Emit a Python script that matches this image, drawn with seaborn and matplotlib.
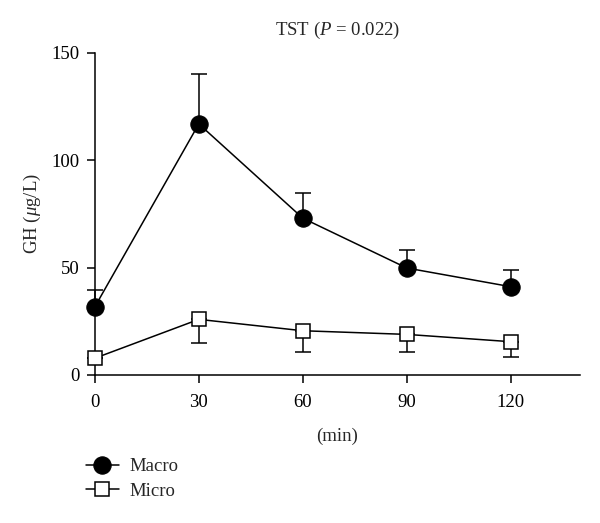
import numpy as np
import pandas as pd
import matplotlib
matplotlib.use("Agg")
import matplotlib.pyplot as plt
import seaborn as sns

# data
minutes = [0, 30, 60, 90, 120]
macro_gh = [31.7, 116.9, 73.0, 49.8, 41.1]
macro_err = [8.0, 23.3, 11.6, 8.2, 7.8]     # drawn upward only
micro_gh = [7.8, 25.9, 20.6, 18.9, 15.5]
micro_err = [0.0, 11.1, 9.7, 8.2, 7.0]      # drawn downward only

df = pd.DataFrame({
    'min': minutes * 2,
    'GH': macro_gh + micro_gh,
    'group': ['Macro'] * 5 + ['Micro'] * 5,
})

sns.set_style("ticks")
plt.rcParams['font.family'] = ['Liberation Serif', 'DejaVu Serif']
plt.rcParams['mathtext.fontset'] = 'custom'
plt.rcParams['mathtext.rm'] = 'Liberation Serif'
plt.rcParams['mathtext.it'] = 'Liberation Serif:italic'

fs = 13.5
fig = plt.figure(figsize=(6, 5.23), dpi=100)
ax = fig.add_axes([0.158, 0.283, 0.809, 0.616])

# error bars first so markers sit on top
for gh, lo, hi in [(macro_gh, np.zeros(5), macro_err), (micro_gh, micro_err, np.zeros(5))]:
    eb = ax.errorbar(minutes, gh, yerr=[lo, hi], fmt='none', ecolor='black',
                     elinewidth=1.1, capsize=6, capthick=1.1, zorder=1)
    for art in eb.lines[1] + eb.lines[2]:
        art.set_clip_on(False)

sns.lineplot(data=df[df.group == 'Macro'], x='min', y='GH', ax=ax,
             color='black', lw=1.1, marker='o', markersize=12.5,
             markerfacecolor='black', markeredgecolor='black',
             label='Macro', zorder=3, clip_on=False)
sns.lineplot(data=df[df.group == 'Micro'], x='min', y='GH', ax=ax,
             color='black', lw=1.1, marker='s', markersize=9.5,
             markerfacecolor='white', markeredgecolor='black', markeredgewidth=1.1,
             label='Micro', zorder=3, clip_on=False)

ax.set_xlim(0, 140)
ax.set_ylim(0, 150)
ax.set_xticks([0, 30, 60, 90, 120])
ax.set_yticks([0, 50, 100, 150])
ax.tick_params(direction='out', length=6, width=1.1, labelsize=fs, colors='black', pad=5)
ax.tick_params(axis='x', pad=8)
for s in ['left', 'bottom']:
    ax.spines[s].set_linewidth(1.1)
    ax.spines[s].set_color('black')
sns.despine(ax=ax)

ax.set_xlabel('(min)', fontsize=fs, labelpad=12)
ax.set_ylabel(r'GH ($\mathit{\mu}$g/L)', fontsize=fs, labelpad=6)
ax.set_title(r'TST ($\mathit{P}$ = 0.022)', fontsize=fs, pad=13)

ax.legend(loc='upper left', bbox_to_anchor=(0.143, 0.124), bbox_transform=fig.transFigure,
          frameon=False, fontsize=fs, handlelength=1.75, handletextpad=0.6,
          labelspacing=0.4, borderpad=0, borderaxespad=0)

fig.savefig('out.png', dpi=100)
